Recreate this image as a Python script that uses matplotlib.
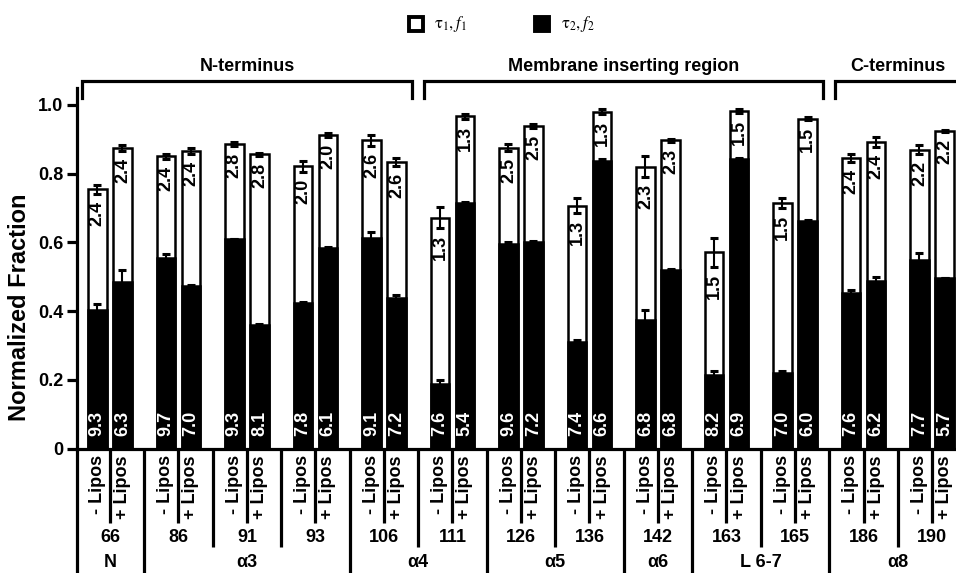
import numpy as np
import matplotlib
matplotlib.use("Agg")
import matplotlib.pyplot as plt
from matplotlib.patches import Rectangle
from matplotlib.lines import Line2D

plt.rcParams['font.family'] = ['Liberation Sans', 'DejaVu Sans']
plt.rcParams['mathtext.fontset'] = 'stix'

# ---------------- data ----------------
residues = ['66', '86', '91', '93', '106', '111', '126', '136', '142', '163', '165', '186', '190']
group_names = ['N', 'α3', 'α4', 'α5', 'α6', 'L 6-7', 'α8']
group_sizes = [1, 3, 2, 2, 1, 2, 2]
region_names = ['N-terminus', 'Membrane inserting region', 'C-terminus']
region_sizes = [5, 6, 2]
cond_labels = ['- Lipos', '+ Lipos']

# total height (f1 + f2) and f2 (black part), -Lipos / +Lipos
total_minus = [0.754, 0.851, 0.886, 0.821, 0.897, 0.672, 0.875, 0.707, 0.820, 0.571, 0.715, 0.845, 0.870]
total_plus = [0.875, 0.866, 0.856, 0.913, 0.835, 0.967, 0.939, 0.981, 0.897, 0.982, 0.960, 0.892, 0.924]
f2_minus = [0.402, 0.554, 0.611, 0.423, 0.614, 0.188, 0.596, 0.309, 0.373, 0.215, 0.221, 0.452, 0.549]
f2_plus = [0.486, 0.472, 0.359, 0.585, 0.439, 0.715, 0.602, 0.836, 0.521, 0.844, 0.661, 0.487, 0.496]
err_total_minus = [0.012, 0.007, 0.005, 0.016, 0.017, 0.031, 0.010, 0.022, 0.031, 0.042, 0.014, 0.011, 0.013]
err_total_plus = [0.008, 0.010, 0.005, 0.005, 0.012, 0.007, 0.005, 0.007, 0.004, 0.005, 0.004, 0.014, 0.002]
err_f2_minus = [0.020, 0.012, 0.000, 0.003, 0.015, 0.012, 0.006, 0.007, 0.031, 0.010, 0.006, 0.010, 0.019]
err_f2_plus = [0.035, 0.004, 0.004, 0.003, 0.007, 0.003, 0.003, 0.008, 0.002, 0.002, 0.003, 0.013, 0.000]
tau1_minus = ['2.4', '2.4', '2.8', '2.0', '2.6', '1.3', '2.5', '1.3', '2.3', '1.5', '1.5', '2.4', '2.2']
tau1_plus = ['2.4', '2.4', '2.8', '2.0', '2.6', '1.3', '2.5', '1.3', '2.3', '1.5', '1.5', '2.4', '2.2']
tau2_minus = ['9.3', '9.7', '9.3', '7.8', '9.1', '7.6', '9.6', '7.4', '6.8', '8.2', '7.0', '7.6', '7.7']
tau2_plus = ['6.3', '7.0', '8.1', '6.1', '7.2', '5.4', '7.2', '6.6', '6.8', '6.9', '6.0', '6.2', '5.7']

# ---------------- figure ----------------
W, H = 956, 573
fig = plt.figure(figsize=(W / 100, H / 100), dpi=100)
ax = fig.add_axes([77 / W, (H - 448.5) / H, 879 / W, 360.7 / H])
ax.set_xlim(-0.48, 12.35)
ax.set_ylim(0, 1.05)

n = len(residues)
x = np.arange(n)
off = 0.183
bw = 0.27
lw = 1.8

for xs, tot, f2, et, ef, t1, t2 in [
        (x - off, total_minus, f2_minus, err_total_minus, err_f2_minus, tau1_minus, tau2_minus),
        (x + off, total_plus, f2_plus, err_total_plus, err_f2_plus, tau1_plus, tau2_plus)]:
    ax.bar(xs, tot, width=bw, color='white', edgecolor='black', linewidth=lw, zorder=2)
    ax.bar(xs, f2, width=bw, color='black', edgecolor='black', linewidth=lw, zorder=3)
    ax.errorbar(xs, tot, yerr=et, fmt='none', ecolor='black', elinewidth=1.5,
                capsize=3, capthick=2.2, zorder=4)
    ax.errorbar(xs, f2, yerr=ef, fmt='none', ecolor='black', elinewidth=1.5,
                capsize=3, capthick=2.2, zorder=4)
    for xi, tv, ev, s1, s2 in zip(xs, tot, et, t1, t2):
        ax.text(xi, tv - ev - 0.02, s1, rotation=90, ha='center', va='top',
                fontsize=13, fontweight='bold', color='black', zorder=5)
        ax.text(xi, 0.035, s2, rotation=90, ha='center', va='bottom',
                fontsize=13, fontweight='bold', color='white', zorder=5)

# axes styling
for s in ['top', 'right']:
    ax.spines[s].set_visible(False)
for s in ['left', 'bottom']:
    ax.spines[s].set_linewidth(2.3)
ax.set_xticks([])
ax.set_yticks([0, 0.2, 0.4, 0.6, 0.8, 1.0])
ax.set_yticklabels(['0', '0.2', '0.4', '0.6', '0.8', '1.0'], fontsize=13, fontweight='bold')
ax.tick_params(axis='y', length=7, width=2.3, pad=3)

fig.text(20 / W, 1 - 307 / H, 'Normalized Fraction', rotation=90, ha='center', va='center',
         fontsize=17, fontweight='bold')

# ---------------- lower annotation ----------------
lk = dict(color='black', linewidth=2.3, clip_on=False, solid_capstyle='butt')
for i in range(n):
    ax.text(i - off, -0.019, cond_labels[0], rotation=90, ha='center', va='top',
            fontsize=13, fontweight='bold')
    ax.text(i + off, -0.019, cond_labels[1], rotation=90, ha='center', va='top',
            fontsize=13, fontweight='bold')
    ax.add_line(Line2D([i, i], [-0.004, -0.217], **lk))
    ax.text(i, -0.258, residues[i], ha='center', va='center', fontsize=13, fontweight='bold')

bounds = np.cumsum([0] + group_sizes)
for k in range(1, n):
    if k in bounds:
        ax.add_line(Line2D([k - 0.5, k - 0.5], [0, -0.45], **lk))
    else:
        ax.add_line(Line2D([k - 0.5, k - 0.5], [0, -0.287], **lk))
ax.add_line(Line2D([-0.48, -0.48], [0, -0.45], **lk))
for g, name in enumerate(group_names):
    c = (bounds[g] + bounds[g + 1] - 1) / 2
    ax.text(c, -0.358, name, ha='center', va='bottom', fontsize=13, fontweight='bold')

# ---------------- top brackets ----------------
rb = np.cumsum([0] + region_sizes)
for r, name in enumerate(region_names):
    a = rb[r] - 0.5 + 0.09
    b = rb[r + 1] - 0.5 - 0.09
    ax.add_line(Line2D([a, a, b, b], [1.020, 1.070, 1.070, 1.020], color='black',
                       linewidth=2.3, clip_on=False, solid_joinstyle='miter'))
    ax.text((rb[r] + rb[r + 1] - 1) / 2, 1.111, name, ha='center', va='center',
            fontsize=13, fontweight='bold')

# ---------------- legend ----------------
sq = 14
fig.add_artist(Rectangle(((415.5 - sq / 2) / W, 1 - (24 + sq / 2) / H), sq / W, sq / H,
                         facecolor='white', edgecolor='black', linewidth=2.8,
                         transform=fig.transFigure))
fig.add_artist(Rectangle(((541.7 - sq / 2) / W, 1 - (24 + sq / 2) / H), sq / W, sq / H,
                         facecolor='black', edgecolor='black', linewidth=2.8,
                         transform=fig.transFigure))
fig.text(434 / W, 1 - 24 / H, r'$\mathrm{τ}_1,f_1$', ha='left', va='center', fontsize=12)
fig.text(561 / W, 1 - 24 / H, r'$\mathrm{τ}_2,f_2$', ha='left', va='center', fontsize=12)

fig.savefig('out.png', dpi=100)
